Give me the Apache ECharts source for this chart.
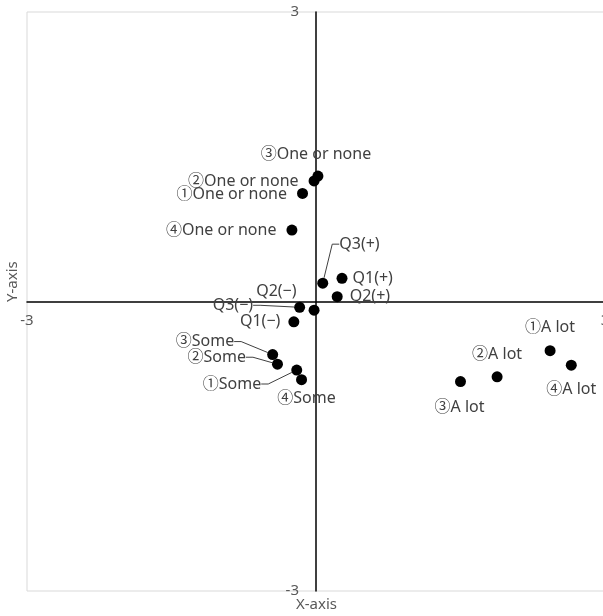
<!DOCTYPE html>
<html>
<head>
<meta charset="utf-8">
<script src="https://cdn.jsdelivr.net/npm/echarts@6/dist/echarts.min.js"></script>
<style>html,body{margin:0;padding:0;background:#fff}#c{width:603px;height:616px}</style>
</head>
<body>
<div id="c"></div>
<script>
const names = ['③One or none','②One or none','①One or none','④One or none',
  'Q3(+)','Q1(+)','Q2(+)','Q3(−)','Q2(−)','Q1(−)',
  '③Some','②Some','①Some','④Some',
  '①A lot','④A lot','②A lot','③A lot'];
const xValues = [0.02,-0.02,-0.14,-0.25, 0.07,0.27,0.22,-0.17,-0.02,-0.23, -0.45,-0.40,-0.20,-0.15, 2.43,2.65,1.88,1.50];
const yValues = [1.30,1.25,1.12,0.74, 0.19,0.24,0.05,-0.06,-0.09,-0.21, -0.55,-0.65,-0.71,-0.81, -0.51,-0.66,-0.78,-0.83];
const axisTicks = [-3, 3];

// label styling (position, shift, leader line)
const labelPos = ['top','left','left','left','right','right','right','left','left','left','left','left','left','bottom','top','bottom','top','bottom'];
const labelShift = [[-2,-3],[-5,1],[-5,1],[-5,0],[6,-39],[0,0],[2,0],[-36,-2],[-7,-19],[-3,0],[-28,-13],[-21,-7],[-25,14],[5,0],[0,-5],[0,6],[0,-4],[-1,7]];
const leader = [false,false,false,false,true,false,false,true,false,false,true,true,true,false,false,false,false,false];

const FONT = '"Noto Sans","Noto Sans CJK JP",sans-serif';
const data = names.map((n, i) => {
  const d = { name: n, value: [xValues[i], yValues[i]], label: { position: labelPos[i] } };
  if (leader[i]) d.labelLine = { show: true, length2: 7, lineStyle: { color: '#404040', width: 1 } };
  return d;
});

const GW = 578, GH = 579;
const chart = echarts.init(document.getElementById('c'), null, { renderer: 'canvas' });
chart.setOption({
  animation: false,
  backgroundColor: '#fff',
  grid: { left: 27, top: 12, width: GW, height: GH, outerBoundsMode: 'none', containLabel: false,
          show: true, borderColor: '#d9d9d9', borderWidth: 1, backgroundColor: 'transparent' },
  xAxis: {
    type: 'value', min: axisTicks[0], max: axisTicks[1], interval: 3,
    position: 'bottom', offset: -GH / 2,
    axisLine: { onZero: false, lineStyle: { color: '#000', width: 1.5 } },
    axisTick: { show: false }, splitLine: { show: false },
    axisLabel: { margin: 12, color: '#595959', fontSize: 15, fontFamily: FONT, formatter: v => (v === 0 ? '' : String(v)) }
  },
  yAxis: {
    type: 'value', min: axisTicks[0], max: axisTicks[1], interval: 3,
    position: 'left', offset: -GW / 2,
    axisLine: { onZero: false, lineStyle: { color: '#000', width: 1.5 } },
    axisTick: { show: false }, splitLine: { show: false },
    axisLabel: { margin: 17, color: '#595959', fontSize: 15, fontFamily: FONT, formatter: v => (v === 0 ? '' : String(v)) }
  },
  graphic: [
    { type: 'text', left: 316 - 20, top: 597, style: { text: 'X-axis', fill: '#595959', font: '15px ' + FONT } },
    { type: 'text', x: 5, y: 302, rotation: Math.PI / 2, style: { text: 'Y-axis', fill: '#595959', font: '15px ' + FONT } }
  ],
  series: [{
    type: 'scatter',
    symbol: 'circle', symbolSize: 11,
    itemStyle: { color: '#000', opacity: 1 },
    label: { show: true, formatter: '{b}', color: '#404040', fontSize: 16, fontFamily: FONT, distance: 5 },
    labelLayout: p => ({ dx: labelShift[p.dataIndex][0], dy: labelShift[p.dataIndex][1] }),
    data: data
  }]
});
</script>
</body>
</html>
